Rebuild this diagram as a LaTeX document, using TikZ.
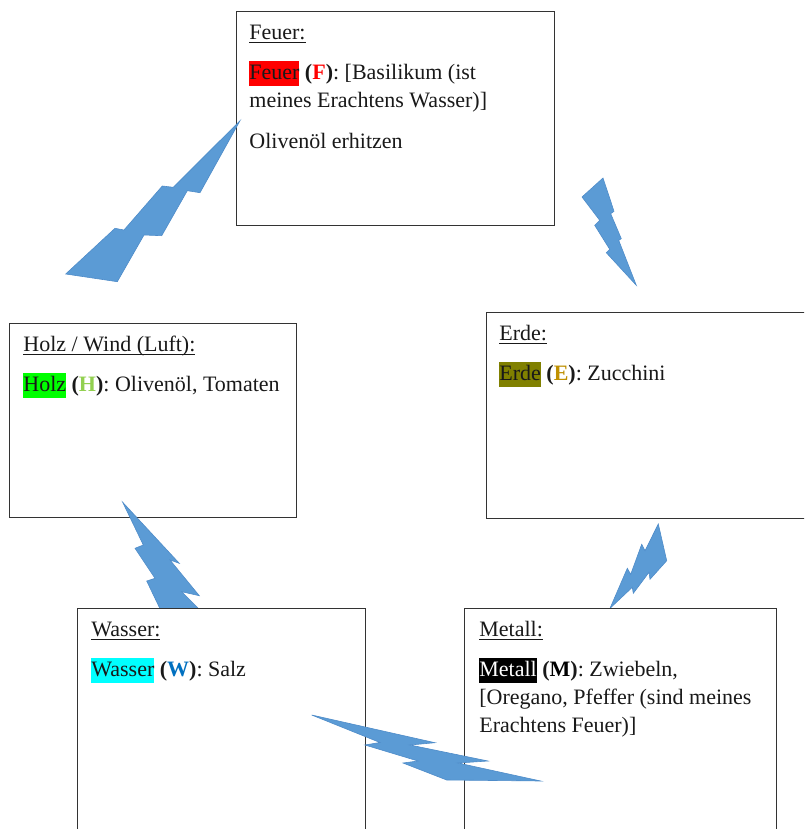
\documentclass[tikz,border=0pt]{standalone}
\usepackage{fontspec}
\setmainfont{Liberation Serif}

\definecolor{boltblue}{HTML}{5B9BD5}
\definecolor{boltline}{HTML}{4F8CC9}
\definecolor{holzgreen}{HTML}{92D050}
\definecolor{hlgreen}{HTML}{00FF00}
\definecolor{hlcyan}{HTML}{00FFFF}
\definecolor{hlred}{HTML}{FF0000}
\definecolor{erdegold}{HTML}{BF9000}
\definecolor{erdeolive}{HTML}{808000}
\definecolor{wasserblue}{HTML}{0070C0}

\newcommand\hlmark[2]{{\setlength{\fboxsep}{0pt}\colorbox{#1}{\rule[-3.4pt]{0pt}{12.6pt}#2}}}
\newcommand\ultitle[1]{\underline{\smash{#1}}}
\newcommand\elemtag[2]{\textbf{(\textcolor{#1}{#2})}}
\def\px{0.5pt}

\tikzset{
  element/.style={draw=black!80, line width=0.6pt, fill=white, inner sep=0pt, anchor=north west},
  elemtext/.style={anchor=north west, inner sep=0pt, align=left, text=black!90,
    font={\fontsize{11}{14}\selectfont}},
  bolt/.style={fill=boltblue, draw=boltline, line width=0.3pt, line join=miter},
}

\begin{document}
\begin{tikzpicture}[x=0.5pt, y=-0.5pt]
  \clip (0,0) rectangle (804,829);

  % boxes, upper row
  \node[element, minimum width=287*\px, minimum height=194*\px] (holz) at (9,323) {};
  \node[element, minimum width=318*\px, minimum height=214*\px] (feuer) at (236,11) {};
  \node[element, minimum width=320*\px, minimum height=206*\px] (erde) at (486,312) {};

  \node[elemtext] (feuer text) at ([shift={(13,8.4)}]feuer.north west)
    {\strut\ultitle{Feuer:}\\[6pt]
     \hlmark{hlred}{Feuer} \elemtag{hlred}{F}: [Basilikum (ist\\
     meines Erachtens Wasser)]\\[6.5pt]
     Olivenöl erhitzen};
  \node[elemtext] (holz text) at ([shift={(14,8.4)}]holz.north west)
    {\strut\ultitle{Holz / Wind (Luft):}\\[6pt]
     \hlmark{hlgreen}{Holz} \elemtag{holzgreen}{H}: Olivenöl, Tomaten};
  \node[elemtext] (erde text) at ([shift={(13,8.4)}]erde.north west)
    {\strut\ultitle{Erde:}\\[6pt]
     \hlmark{erdeolive}{Erde} \elemtag{erdegold}{E}: Zucchini};

  % bolt feuer -> holz
  \fill[bolt] (240,120.7) -- (200,192.7) -- (187.3,190.7) -- (161.7,235.7)
    -- (144,235) -- (117.3,281.7) -- (65.7,274) -- (115,228.3) -- (124,230)
    -- (162.3,186) -- (173.3,187.3) -- cycle;
  % bolt feuer -> erde
  \fill[bolt] (603,178) -- (614,211.3) -- (610.7,213.7) -- (621.3,238.7)
    -- (618.7,240.3) -- (636.3,285.3) -- (606.3,252.7) -- (609.7,249.3)
    -- (594.7,225.3) -- (599.7,220.3) -- (582,197) -- cycle;
  % bolt holz -> wasser (runs under the box)
  \fill[bolt] (122.7,502.3) -- (143.3,545) -- (135,548.3) -- (155,578.3)
    -- (146.7,581) -- (163,615) -- (205,615) -- (181.7,591.7) -- (199.3,595.7)
    -- (170,560) -- (179.3,563.3) -- cycle;
  % bolt metall -> erde
  \fill[bolt] (610,608.3) -- (627.3,568.3) -- (630.7,574.3) -- (641.7,544.3)
    -- (645,550.7) -- (658.3,524) -- (666.7,560.7) -- (650,579.3)
    -- (649,572.3) -- (633.3,593.3) -- (632.3,587.3) -- cycle;

  % boxes, lower row
  \node[element, minimum width=288*\px, minimum height=240*\px] (wasser) at (77,608) {};
  \node[element, minimum width=312*\px, minimum height=240*\px] (metall) at (464,608) {};

  \node[elemtext] (wasser text) at ([shift={(14,8.4)}]wasser.north west)
    {\strut\ultitle{Wasser:}\\[6pt]
     \hlmark{hlcyan}{Wasser} \elemtag{wasserblue}{W}: Salz};
  \node[elemtext] (metall text) at ([shift={(15,8.4)}]metall.north west)
    {\strut\ultitle{Metall:}\\[6pt]
     \hlmark{black}{\textcolor{white}{Metall}} \elemtag{black}{M}: Zwiebeln,\\
     {}[Oregano, Pfeffer (sind meines\\
     Erachtens Feuer)]};

  % bolt wasser -> metall
  \fill[bolt] (311.7,715) -- (435,742.7) -- (410,745) -- (488,761)
    -- (458,763) -- (540.7,781) -- (446.7,780) -- (403,763) -- (418,761)
    -- (365,745) -- (380,742.5) -- cycle;
\end{tikzpicture}
\end{document}
